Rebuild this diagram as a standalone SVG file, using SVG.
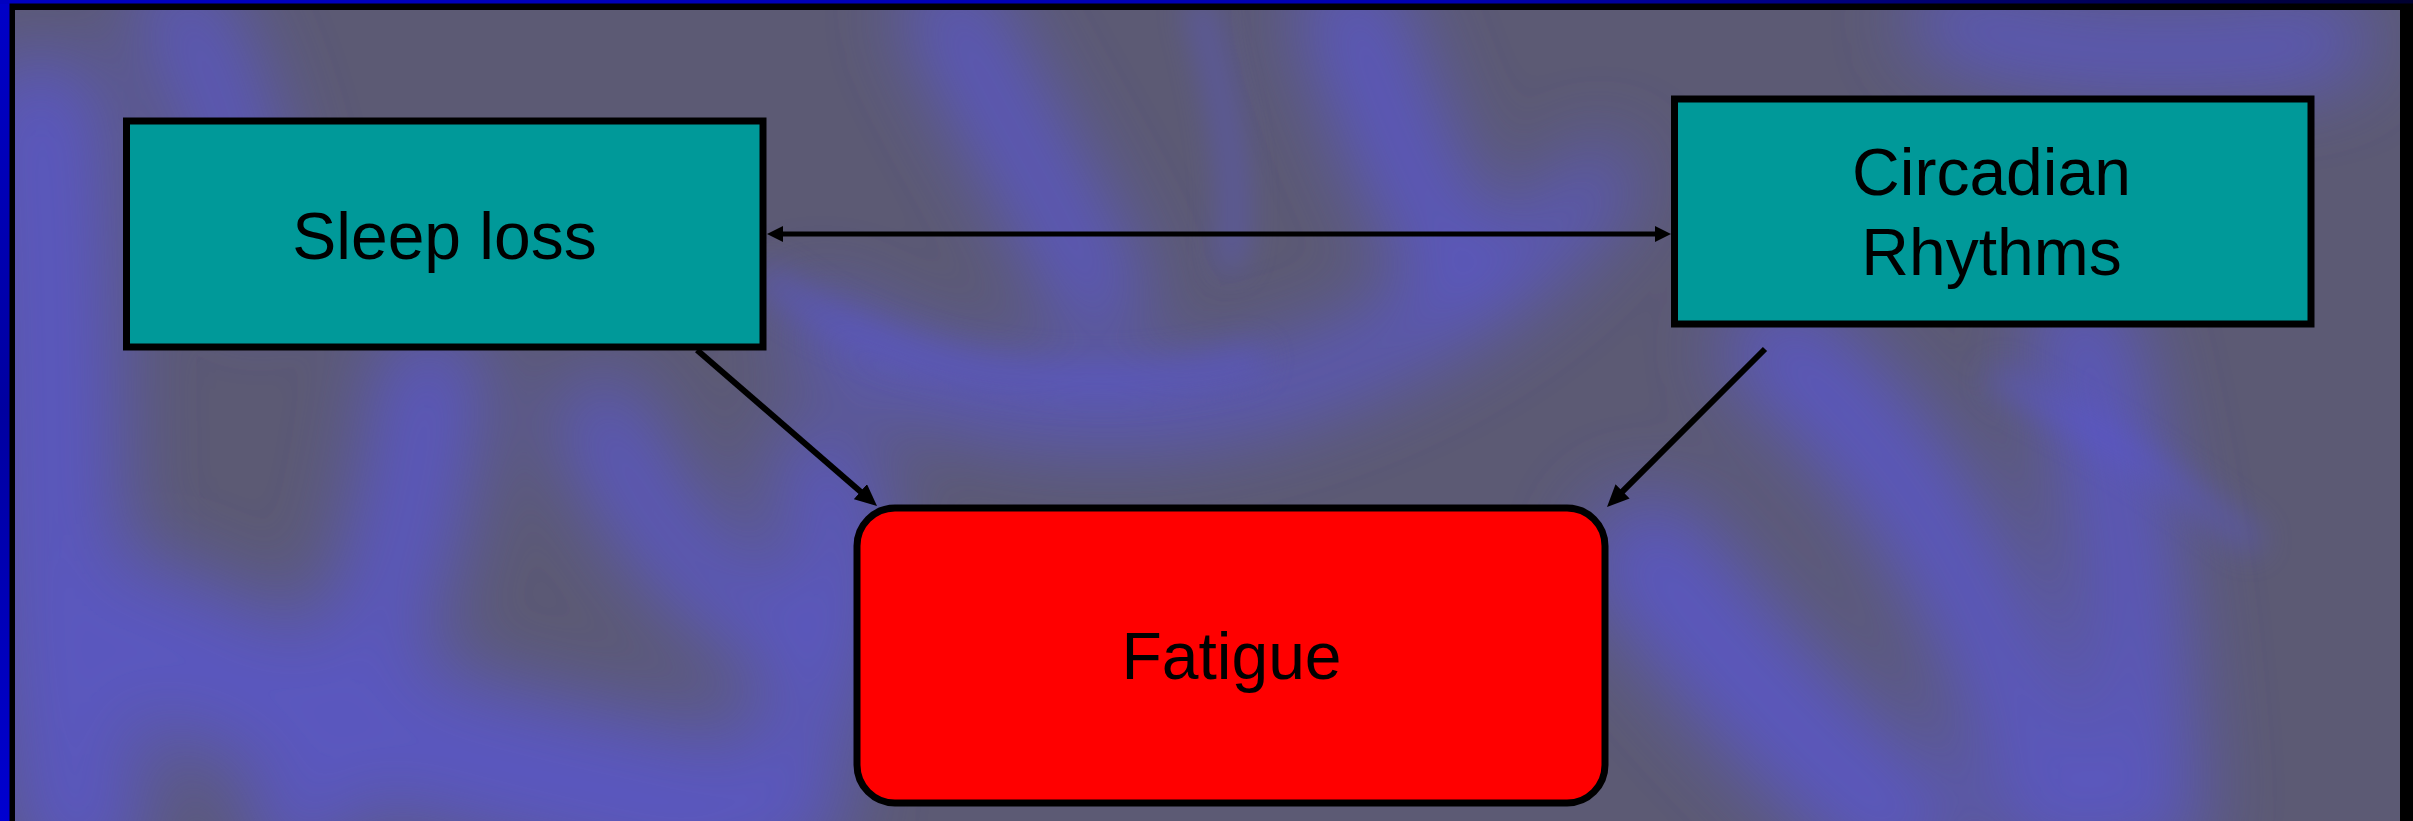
<svg xmlns="http://www.w3.org/2000/svg" width="2413" height="821" viewBox="0 0 2413 821">
<defs>
<style>
.box{fill:#009999;stroke:#000;stroke-width:7}
.fat{fill:#ff0000;stroke:#000;stroke-width:7}
.lbl{font-family:"Liberation Sans",Arial,sans-serif;font-size:66px;fill:#000;text-anchor:middle}
.hl{stroke:#000;stroke-width:5;fill:none}
.dl{stroke:#000;stroke-width:6;fill:none}
.sw{fill:none;stroke:#5a56d8;stroke-linecap:round}
</style>
<linearGradient id="frameL" x1="0" y1="0" x2="0" y2="1">
<stop offset="0" stop-color="#0000c8"/>
<stop offset="0.5" stop-color="#0000a0"/>
<stop offset="1" stop-color="#0000d0"/>
</linearGradient>
<linearGradient id="frameT" x1="0" y1="0" x2="1" y2="0">
<stop offset="0" stop-color="#0000c0"/>
<stop offset="0.6" stop-color="#0000b0"/>
<stop offset="1" stop-color="#000030"/>
</linearGradient>
<filter id="blur" x="-30%" y="-30%" width="160%" height="160%">
<feGaussianBlur stdDeviation="40"/>
</filter>
<filter id="blur2" x="-20%" y="-20%" width="140%" height="140%">
<feGaussianBlur stdDeviation="16"/>
</filter>
<clipPath id="inner"><rect x="15" y="10" width="2385" height="811"/></clipPath>
<marker id="ah" viewBox="0 0 16 16" refX="8" refY="8" markerWidth="16" markerHeight="16" markerUnits="userSpaceOnUse" orient="auto-start-reverse">
<path d="M0,0 L16,8 L0,16 z" fill="#000"/>
</marker>
<marker id="ad" viewBox="0 0 22 20" refX="11" refY="10" markerWidth="22" markerHeight="20" markerUnits="userSpaceOnUse" orient="auto">
<path d="M0,0 L22,10 L0,20 z" fill="#000"/>
</marker>
</defs>

<g id="frame">
<rect x="0" y="0" width="2413" height="821" fill="url(#frameL)"/>
<rect x="0" y="0" width="2413" height="4" fill="url(#frameT)"/>
<rect x="9.5" y="3.5" width="2403.5" height="817.5" fill="#000"/>
</g>

<g id="background" clip-path="url(#inner)">
<rect x="15" y="10" width="2385" height="811" fill="#5c5a74"/>
<g filter="url(#blur)" opacity="0.75">
<path class="sw" stroke-width="140" d="M40,120 C60,350 40,600 80,821"/>
<path class="sw" stroke-width="90" d="M180,10 C230,100 240,180 260,260"/>
<path class="sw" stroke-width="110" d="M430,380 C420,500 380,650 300,821"/>
<path class="sw" stroke-width="160" d="M150,640 C300,720 500,770 700,810"/>
<path class="sw" stroke-width="90" d="M950,10 C1000,120 1060,200 1100,300"/>
<path class="sw" stroke-width="100" d="M1350,10 C1380,100 1420,200 1460,260"/>
<path class="sw" stroke-width="70" d="M820,330 C950,420 1150,430 1300,380 C1450,330 1550,250 1600,180"/>
<path class="sw" stroke-width="110" d="M1780,350 C1900,450 2000,600 2050,821"/>
<path class="sw" stroke-width="100" d="M2080,330 C2120,480 2140,650 2150,821"/>
<path class="sw" stroke-width="130" d="M1650,560 C1720,650 1800,740 1900,821"/>
<path class="sw" stroke-width="80" d="M1950,20 C2050,60 2200,60 2330,40"/>
<path class="sw" stroke-width="100" d="M820,470 C880,600 790,700 790,821"/>
<path class="sw" stroke-width="90" d="M600,420 C650,520 700,600 820,650"/>
</g>
<g filter="url(#blur2)" opacity="0.45">
<path class="sw" stroke-width="30" d="M770,280 C900,380 1100,400 1250,360"/>
<path class="sw" stroke-width="26" d="M1200,10 C1230,120 1240,200 1230,260"/>
<path class="sw" stroke-width="26" d="M2000,380 C2080,420 2150,460 2250,540"/>
</g>
</g>

<g id="connectors">
<path class="hl" d="M775,234 L1663,234" marker-start="url(#ah)" marker-end="url(#ah)"/>
<path class="dl" d="M697,350 L868.7,498.8" marker-end="url(#ad)"/>
<path class="dl" d="M1765,349 L1614.8,499.2" marker-end="url(#ad)"/>
</g>

<g id="node-sleep-loss">
<rect class="box" x="126.5" y="121" width="636.5" height="226"/>
<text class="lbl" x="444.5" y="259">Sleep loss</text>
</g>

<g id="node-circadian">
<rect class="box" x="1674.5" y="99" width="636.5" height="225"/>
<text class="lbl" x="1991.5" y="195">Circadian</text>
<text class="lbl" x="1991.5" y="275">Rhythms</text>
</g>

<g id="node-fatigue">
<rect class="fat" x="857" y="508" width="748" height="295" rx="38" ry="38"/>
<text class="lbl" x="1231.5" y="679">Fatigue</text>
</g>
</svg>
